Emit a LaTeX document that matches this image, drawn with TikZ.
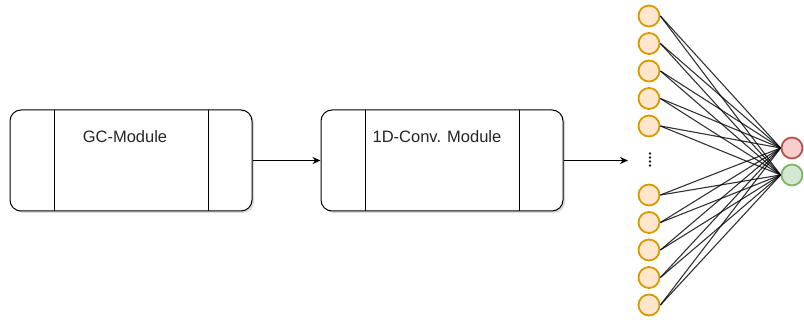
\documentclass[tikz,border=0pt]{standalone}
\usepackage{fontspec}
\setmainfont{Liberation Sans}
\usetikzlibrary{arrows.meta,shadows}
\definecolor{inFill}{HTML}{FFE6CC}
\definecolor{inLine}{HTML}{D79B00}
\definecolor{redFill}{HTML}{F8CECC}
\definecolor{redLine}{HTML}{B85450}
\definecolor{grnFill}{HTML}{D5E8D4}
\definecolor{grnLine}{HTML}{82B366}
\tikzset{
  module/.style={draw=black, line width=1pt, fill=white, rounded corners=11pt,
    minimum width=242pt, minimum height=101pt, inner sep=0pt,
    drop shadow={shadow xshift=2pt, shadow yshift=-2pt, opacity=0.15, fill=black},
    path picture={
      \draw[line width=1pt]
        ([xshift=44pt]path picture bounding box.north west) --
        ([xshift=44pt]path picture bounding box.south west)
        ([xshift=-44pt]path picture bounding box.north east) --
        ([xshift=-44pt]path picture bounding box.south east);
    }},
  modtext/.style={font=\fontsize{16.5}{18}\selectfont, text=black!85, inner sep=0pt},
  flow/.style={draw=black, line width=1pt, -{Stealth[length=8pt,width=7pt]}},
  neuron/.style={circle, draw=inLine, fill=inFill, line width=1.8pt,
    minimum size=21pt, inner sep=0pt},
  outred/.style={circle, draw=redLine, fill=redFill, line width=1.8pt,
    minimum size=21pt, inner sep=0pt},
  outgrn/.style={circle, draw=grnLine, fill=grnFill, line width=1.8pt,
    minimum size=21pt, inner sep=0pt},
  wire/.style={draw=black, line width=1.1pt, opacity=0.8}
}
\begin{document}
\begin{tikzpicture}[x=1pt, y=-1pt]
  \useasboundingbox (0,0) rectangle (804,323);

  % processing modules
  \node[module] (gc)   at (131,160.5) {};
  \node[modtext] (gctext) at (125,137) {GC-Module};
  \node[module] (conv) at (442,160.5) {};
  \node[modtext] (convtext) at (437,137) {1D-Conv. Module};

  \draw[flow] (gc.east) -- (conv.west);
  \coordinate (netin) at (628,160.5);
  \draw[flow] (conv.east) -- (netin);

  % output units
  \node[outred] (o1) at (792,148) {};
  \node[outgrn] (o2) at (792,175) {};

  % input units, each fully connected to both outputs
  \foreach \i/\y in {1/16, 2/43.5, 3/71, 4/98.5, 5/126,
                     6/195, 7/222.5, 8/250, 9/277.5, 10/305} {
    \node[neuron] (n\i) at (649,\y) {};
    \draw[wire] (n\i.east) -- (o1.west);
    \draw[wire] (n\i.east) -- (o2.west);
  }

  % vertical ellipsis between the two groups
  \foreach \d [count=\k] in {153.5,157.5,161.5,165.5}
    \fill[black!85] (650,\d) circle (1.3pt) coordinate (dot\k);
\end{tikzpicture}
\end{document}
